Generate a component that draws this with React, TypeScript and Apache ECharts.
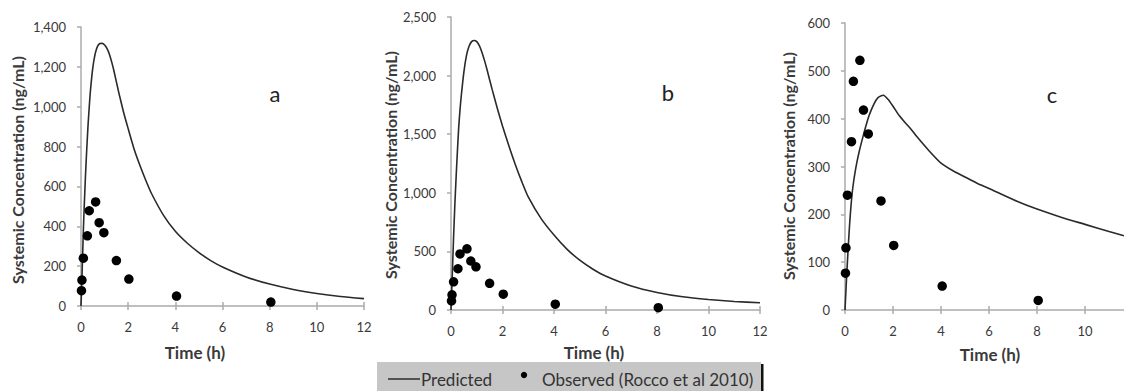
import React, { useEffect, useRef } from "react";
import * as echarts from "echarts";

const predTime = [0, 0.05, 0.1, 0.15, 0.2, 0.25, 0.3, 0.35, 0.4, 0.5, 0.6, 0.7, 0.8, 0.9, 1.0, 1.1, 1.2, 1.3, 1.4, 1.6, 1.8, 2.0, 2.25, 2.5, 2.75, 3.0, 3.5, 4, 4.5, 5, 5.5, 6, 7, 8, 9, 10, 11, 12];
const predA = [0, 180, 380, 540, 680, 800, 910, 1000, 1080, 1195, 1265, 1303, 1317, 1318, 1310, 1293, 1265, 1225, 1178, 1072, 975, 890, 788, 705, 630, 562, 455, 375, 316, 268, 228, 196, 146, 110, 83, 63, 48, 37];
const predB = [0, 300, 620, 900, 1140, 1360, 1560, 1710, 1830, 2030, 2170, 2250, 2290, 2300, 2290, 2255, 2200, 2130, 2050, 1880, 1720, 1570, 1400, 1240, 1095, 965, 780, 640, 520, 425, 350, 290, 205, 150, 113, 90, 73, 62];
const predC = [0, 52, 100, 145, 185, 218, 245, 265, 282, 310, 333, 353, 372, 390, 406, 419, 430, 439, 445, 449, 440, 426, 407, 392, 378, 362, 333, 307, 291, 278, 265, 254, 231, 211, 194, 179, 164, 150];

const obsTime = [0.02, 0.04, 0.1, 0.27, 0.35, 0.62, 0.77, 0.97, 1.5, 2.03, 4.05, 8.05];
const obsConc = [77, 130, 240, 352, 478, 522, 418, 368, 228, 135, 50, 20];

const panelLetters = ["a", "b", "c"];
const yMax = [1400, 2500, 600];
const yStep = [200, 500, 100];
const xTicks = { min: 0, max: 12, interval: 2 };
const yTitle = "Systemic Concentration (ng/mL)";
const xTitle = "Time (h)";
const legendNames = ["Predicted", "Observed (Rocco et al 2010)"];

const FONT = "Lato, 'Open Sans', sans-serif";
const AXIS_COLOR = "#ababab";
const TEXT_COLOR = "#3a3a3a";

export default function App() {
  const ref = useRef<HTMLDivElement>(null);
  useEffect(() => {
    document.body.style.margin = "0";
    const chart = echarts.init(ref.current!, undefined, { renderer: "svg" });
    const grids = [
      { left: 81, top: 27, width: 283, height: 279 },
      { left: 451, top: 17, width: 309, height: 293 },
      { left: 845, top: 23, width: 288, height: 287 },
    ];
    const preds = [predA, predB, predC];
    const xAxes: any[] = [];
    const yAxes: any[] = [];
    const series: any[] = [];
    grids.forEach((g, i) => {
      xAxes.push({
        type: "value",
        gridIndex: i,
        position: "bottom",
        min: xTicks.min,
        max: xTicks.max,
        interval: xTicks.interval,
        axisLine: { show: true, onZero: false, lineStyle: { color: AXIS_COLOR, width: 1.5 } },
        axisTick: { show: true, inside: false, length: 4, lineStyle: { color: AXIS_COLOR, width: 1.5 } },
        axisLabel: {
          margin: 14,
          color: TEXT_COLOR,
          fontFamily: FONT,
          fontSize: 13,
          showMaxLabel: i !== 2,
        },
        splitLine: { show: false },
      });
      xAxes.push({
        type: "value",
        gridIndex: i,
        position: "bottom",
        offset: 0,
        min: xTicks.min,
        max: xTicks.max,
        interval: xTicks.interval,
        axisLine: { show: false },
        axisTick: { show: true, inside: true, length: 4, lineStyle: { color: AXIS_COLOR, width: 1.5 } },
        axisLabel: { show: false },
        splitLine: { show: false },
      });
      yAxes.push({
        type: "value",
        gridIndex: i,
        min: 0,
        max: yMax[i],
        interval: yStep[i],
        axisLine: { show: true, onZero: false, lineStyle: { color: AXIS_COLOR, width: 1.5 } },
        axisTick: { show: true, length: 4, lineStyle: { color: AXIS_COLOR, width: 1.5 } },
        axisLabel: {
          margin: 15,
          color: TEXT_COLOR,
          fontFamily: FONT,
          fontSize: 13,
          formatter: (v: number) => v.toLocaleString("en-US"),
        },
        splitLine: { show: false },
      });
      series.push({
        name: legendNames[0],
        type: "line",
        xAxisIndex: i * 2,
        yAxisIndex: i,
        data: predTime.map((t, k) => [t, preds[i][k]]),
        showSymbol: false,
        symbol: "none",
        smooth: 0.2,
        lineStyle: { color: "#2a2a2a", width: 1.6 },
        z: 2,
      });
      series.push({
        name: legendNames[1],
        type: "scatter",
        xAxisIndex: i * 2,
        yAxisIndex: i,
        data: obsTime.map((t, k) => [t, obsConc[k]]),
        symbol: "circle",
        symbolSize: 9.5,
        itemStyle: { color: "#000", opacity: 1 },
        z: 3,
      });
    });

    const yTitlePos = [
      [17, 170],
      [390, 165],
      [788, 166],
    ];
    const xTitlePos = [
      [195, 352],
      [594, 352],
      [990, 354],
    ];
    const letterPos = [
      [275, 93],
      [668, 92],
      [1052, 94],
    ];
    const graphic: any[] = [];
    for (let i = 0; i < 3; i++) {
      graphic.push({
        type: "text",
        x: yTitlePos[i][0],
        y: yTitlePos[i][1],
        rotation: Math.PI / 2,
        style: {
          text: yTitle,
          fontFamily: FONT,
          fontWeight: "bold",
          fontSize: 16,
          fill: TEXT_COLOR,
          align: "center",
          verticalAlign: "middle",
        },
      });
      graphic.push({
        type: "text",
        x: xTitlePos[i][0],
        y: xTitlePos[i][1],
        style: {
          text: xTitle,
          fontFamily: FONT,
          fontWeight: "bold",
          fontSize: 17,
          fill: TEXT_COLOR,
          align: "center",
          verticalAlign: "middle",
        },
      });
      graphic.push({
        type: "text",
        x: letterPos[i][0],
        y: letterPos[i][1],
        style: {
          text: panelLetters[i],
          fontFamily: FONT,
          fontSize: 22,
          fill: "#222",
          align: "center",
          verticalAlign: "middle",
        },
      });
    }
    // legend box
    graphic.push({
      type: "rect",
      shape: { x: 377, y: 362, width: 384, height: 40 },
      style: { fill: "#c6c6c6" },
      z: 0,
    });
    graphic.push({
      type: "rect",
      shape: { x: 761, y: 364, width: 2.5, height: 30 },
      style: { fill: "#111" },
    });
    graphic.push({
      type: "line",
      shape: { x1: 388, y1: 379, x2: 420, y2: 379 },
      style: { stroke: "#222", lineWidth: 1.4 },
    });
    graphic.push({
      type: "text",
      x: 421,
      y: 379,
      style: { text: legendNames[0], fontFamily: FONT, fontSize: 17, fill: "#333", align: "left", verticalAlign: "middle" },
    });
    graphic.push({
      type: "circle",
      shape: { cx: 524, cy: 375, r: 3.2 },
      style: { fill: "#000" },
    });
    graphic.push({
      type: "text",
      x: 542,
      y: 379,
      style: { text: legendNames[1], fontFamily: FONT, fontSize: 17, fill: "#333", align: "left", verticalAlign: "middle" },
    });

    chart.setOption({
      animation: false,
      backgroundColor: "#ffffff",
      grid: grids.map((g) => ({ ...g, containLabel: false, outerBoundsMode: "none" })),
      xAxis: xAxes,
      yAxis: yAxes,
      series,
      graphic,
    });
    return () => chart.dispose();
  }, []);
  return <div ref={ref} style={{ width: 1124, height: 391 }} />;
}
